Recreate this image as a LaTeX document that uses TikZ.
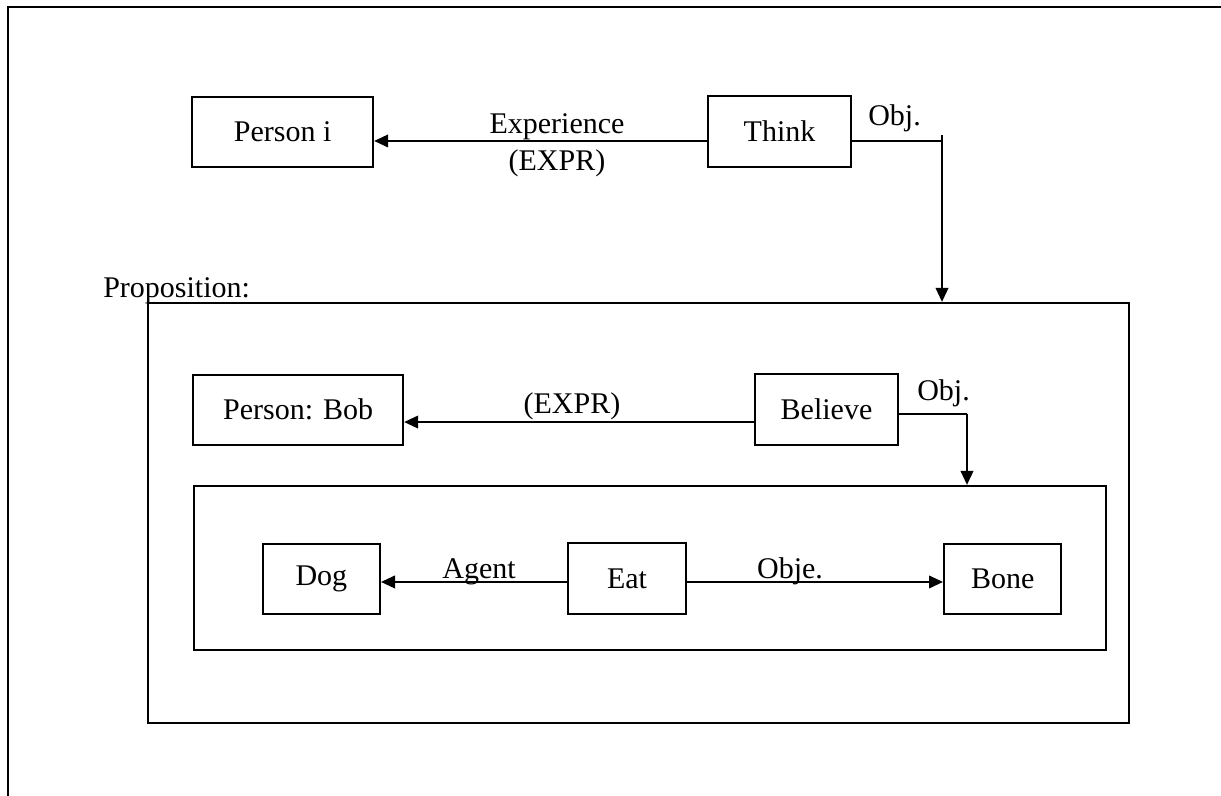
\documentclass[tikz,border=0pt]{standalone}
\usepackage{fontspec}
\setmainfont{Liberation Serif}
\usetikzlibrary{arrows.meta,positioning}
\tikzstyle{concept} = [rectangle, draw=black, line width=1.5pt, fill=white, text=black, text centered, font=\fontsize{22.5}{27}\selectfont, minimum height=52.5pt, inner sep=0pt]
\tikzstyle{frame} = [rectangle, draw=black, line width=1.7pt, inner sep=0pt]
\tikzstyle{textonly} = [draw=none, fill=none, inner sep=0pt, font=\fontsize{22.5}{27}\selectfont]
\tikzstyle{tedge}  = [draw, line width=1.3pt, >={Triangle[length=10.5pt,width=9.5pt]}, ->]
\tikzstyle{tline}  = [draw, line width=1.3pt]

\begin{document}
\begin{tikzpicture}[x=0.75pt, y=-0.75pt]

\useasboundingbox (0,0) rectangle (1221,796);

% page frame
\draw[line width=2.2pt] (8,900) -- (8,7) -- (1300,7);

% frames ==================================

\node[frame, minimum width=735.75pt, minimum height=315pt] (prop) at (638.5,513) {};
\node[frame, minimum width=684pt, minimum height=123pt] (inner) at (650,568) {};
\node[textonly, anchor=base west] (proplabel) at (103,297) {Proposition:};

% concepts ================================

% top level
\node[concept, minimum width=107pt, minimum height=53pt] (think) at (779.5,131.5) {Think};
\node[concept, minimum width=135.75pt, left=249.75pt of think] (personi) {Person i};

% proposition
\node[concept, minimum width=107pt, minimum height=53pt] (believe) at (826.5,409.5) {Believe};
\node[concept, minimum width=157.5pt, left=262.5pt of believe] (bob) {Person: Bob};

% inner proposition
\node[concept, minimum width=88.5pt, minimum height=53pt] (eat) at (627,578.5) {Eat};
\node[concept, minimum width=88pt, left=139.5pt of eat] (dog) {Dog};
\node[concept, minimum width=88pt, right=192pt of eat] (bone) {Bone};

% relation labels =========================

\node[textonly, anchor=base] (expr1) at (557,133) {Experience};
\node[textonly, anchor=base] (expr2) at (557,170) {(EXPR)};
\node[textonly, anchor=base west] (obj1) at (868,125) {Obj.};
\node[textonly, anchor=base] (expr3) at (572,413) {(EXPR)};
\node[textonly, anchor=base west] (obj2) at (917,400) {Obj.};
\node[textonly, anchor=base] (agent) at (479,578) {Agent};
\node[textonly, anchor=base] (obje) at (790,578) {Obje.};

% edges ===================================

\coordinate (thinkturn) at (942,141);
\coordinate (thinktick) at (942,135);
\coordinate (believeturn) at (967,414);

\path[tedge] ([yshift=-7.1pt]think.west) -- ([yshift=-7.1pt]think.west -| personi.east);
\path[tline] ([yshift=-7.1pt]think.east) -- (thinkturn);
\path[tedge] (thinktick) -- (thinktick |- prop.north);

\path[tedge] ([yshift=-9.4pt]believe.west) -- ([yshift=-9.4pt]believe.west -| bob.east);
\path[tline] ([yshift=-3.4pt]believe.east) -- (believeturn);
\path[tedge] (believeturn) -- (believeturn |- inner.north);

\path[tedge] ([yshift=-2.6pt]eat.west) -- ([yshift=-2.6pt]eat.west -| dog.east);
\path[tedge] ([yshift=-2.6pt]eat.east) -- ([yshift=-2.6pt]eat.east -| bone.west);

\end{tikzpicture}
\end{document}
